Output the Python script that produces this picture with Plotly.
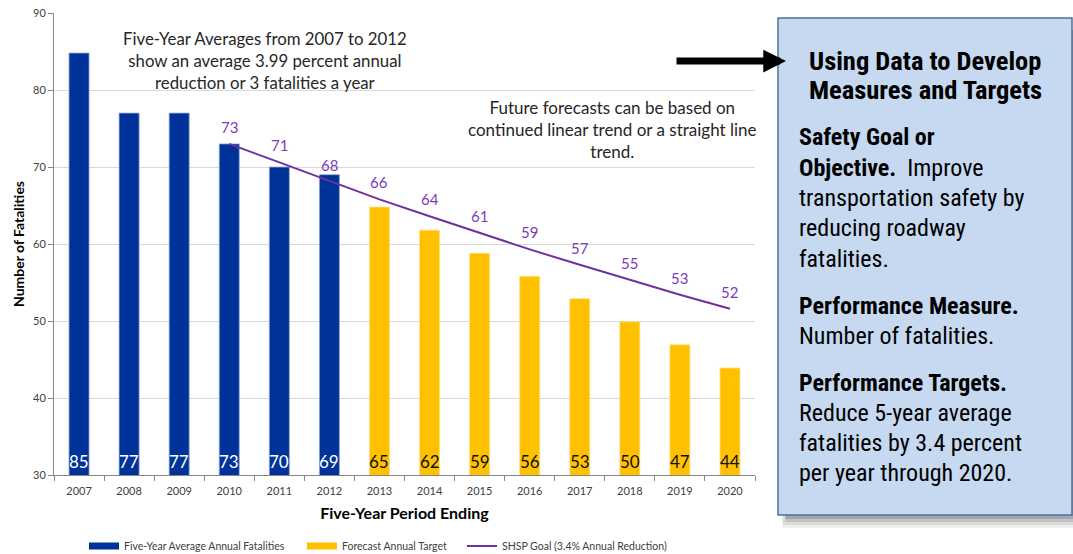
import plotly.graph_objects as go

# ---------------- data ----------------
years = ["2007", "2008", "2009", "2010", "2011", "2012", "2013", "2014",
         "2015", "2016", "2017", "2018", "2019", "2020"]
hist_years = years[:6]
hist_vals = [84.8, 77.0, 77.0, 73.0, 70.0, 69.0]
fc_years = years[6:]
fc_vals = [64.8, 61.8, 58.8, 55.8, 52.9, 49.9, 46.9, 43.9]
goal_years = years[3:]
goal_vals = [73.0, 70.6, 68.1, 65.8, 63.6, 61.4, 59.3, 57.3, 55.3, 53.4, 51.6]

# ---------------- layout helpers ----------------
W, H = 1073, 554
L, R, T, B = 54, 318, 13, 79
PW, PH = W - L - R, H - T - B


def px(x):
    return (x - L) / PW


def py(y):
    return (H - B - y) / PH


FONT = "Lato, Carlito, Calibri, sans-serif"
NARROW = "Liberation Sans Narrow, Arial Narrow, Roboto Condensed, sans-serif"
BLUE = "#003399"
GOLD = "#FFC000"
PURPLE = "#7030A0"
NAME_HIST = "Five-Year Average Annual Fatalities"
NAME_FC = "Forecast Annual Target"
NAME_GOAL = "SHSP Goal (3.4% Annual Reduction)"

fig = go.Figure()
fig.add_trace(go.Bar(x=hist_years, y=hist_vals, name=NAME_HIST,
                     marker=dict(color=BLUE, line=dict(color="#8FA8D8", width=0.8)),
                     showlegend=False))
fig.add_trace(go.Bar(x=fc_years, y=fc_vals, name=NAME_FC,
                     marker=dict(color=GOLD, line=dict(color="#FFE08A", width=0.8)),
                     showlegend=False))
fig.add_trace(go.Scatter(x=goal_years, y=goal_vals, name=NAME_GOAL,
                         mode="lines", line=dict(color=PURPLE, width=2),
                         legend="legend3"))
# legend entries for the bars drawn as flat rectangles
fig.add_trace(go.Scatter(x=[None], y=[None], name=NAME_HIST, mode="lines",
                         line=dict(color=BLUE, width=7), legend="legend"))
fig.add_trace(go.Scatter(x=[None], y=[None], name=NAME_FC, mode="lines",
                         line=dict(color=GOLD, width=7), legend="legend2"))

annotations = []
# bar value labels at the bottom of each bar
for yrs, vals, col in [(hist_years, hist_vals, "white"),
                       (fc_years, fc_vals, "#111111")]:
    for yx, v in zip(yrs, vals):
        annotations.append(dict(
            x=years.index(yx), y=30, xref="x", yref="y", text=f"{v:.0f}",
            showarrow=False, yshift=14, xanchor="center", yanchor="middle",
            font=dict(color=col, size=17, family=FONT)))
# goal line labels
for gx, gy in zip(goal_years, goal_vals):
    annotations.append(dict(
        x=years.index(gx), y=gy, xref="x", yref="y", text=f"{gy:.0f}",
        showarrow=False, yshift=17, xanchor="center", yanchor="middle",
        font=dict(color="#7C3CB8", size=15, family=FONT)))

annotations.append(dict(
    x=px(265), y=py(60), xref="paper", yref="paper", showarrow=False,
    xanchor="center", yanchor="middle",
    text="Five-Year Averages from 2007 to 2012<br>show an average 3.99 percent annual<br>reduction or 3 fatalities a year",
    font=dict(size=16.8, color="#262626", family=FONT), align="center"))
annotations.append(dict(
    x=px(612), y=py(129), xref="paper", yref="paper", showarrow=False,
    xanchor="center", yanchor="middle",
    text="Future forecasts can be based on<br>continued linear trend or a straight line<br>trend.",
    font=dict(size=17, color="#262626", family=FONT), align="center"))

# arrow
annotations.append(dict(
    x=px(786), y=py(61), xref="paper", yref="paper", ax=-111, ay=0,
    showarrow=True, arrowhead=2, arrowwidth=7, arrowsize=0.65,
    arrowcolor="black", text=""))

# box text
for yc, txt in [(60, "<b>Using Data to Develop</b>"),
                (90, "<b>Measures and Targets</b>")]:
    annotations.append(dict(
        x=px(925), y=py(yc), xref="paper", yref="paper", showarrow=False,
        xanchor="center", yanchor="middle", text=txt,
        font=dict(size=26.5, color="black", family=NARROW)))
box_lines = [
    (137, "<b>Safety Goal or</b>"),
    (168, "<b>Objective.</b>  Improve"),
    (198, "transportation safety by"),
    (228, "reducing roadway"),
    (259, "fatalities."),
    (306, "<b>Performance Measure.</b>"),
    (336, "Number of fatalities."),
    (383, "<b>Performance Targets.</b>"),
    (413, "Reduce 5-year average"),
    (443, "fatalities by 3.4 percent"),
    (473, "per year through 2020."),
]
for yc, txt in box_lines:
    annotations.append(dict(
        x=px(797), y=py(yc), xref="paper", yref="paper", showarrow=False,
        xanchor="left", yanchor="middle", text=txt, align="left",
        font=dict(size=24, color="black", family=NARROW)))

shapes = []
# soft shadow layers
for i, op in enumerate([0.08, 0.10, 0.14, 0.2]):
    d = 4 + (3 - i) * 3
    shapes.append(dict(type="rect", xref="paper", yref="paper",
                       x0=px(788 - d // 2), x1=px(1073 + 20),
                       y0=py(30), y1=py(515 + d),
                       fillcolor=f"rgba(50,50,60,{op})", line=dict(width=0),
                       layer="below"))
shapes.append(dict(type="rect", xref="paper", yref="paper",
                   x0=px(778), x1=px(1072), y0=py(18), y1=py(515),
                   fillcolor="#C6D9F1", line=dict(color="#4F6F9A", width=1.5)))

leg_common = dict(yanchor="middle", xanchor="left", orientation="h",
                  xref="container", yref="container",
                  font=dict(size=10.5, color="#404040", family=FONT),
                  bgcolor="rgba(0,0,0,0)", itemwidth=30)

fig.update_layout(
    width=W, height=H, margin=dict(l=L, r=R, t=T, b=B),
    paper_bgcolor="white", plot_bgcolor="white",
    barmode="overlay", bargap=0.6, showlegend=True,
    font=dict(family=FONT, color="#404040"),
    annotations=annotations, shapes=shapes,
    xaxis=dict(type="category", categoryorder="array", categoryarray=years,
               range=[-0.5, len(years) - 0.5], automargin=False,
               showline=True, linecolor="#868686", showgrid=False,
               ticks="outside", tickson="boundaries", ticklen=5,
               ticklabelstandoff=6,
               tickcolor="#868686", tickfont=dict(size=11, color="#404040"),
               title=dict(text="<b>Five-Year Period Ending</b>",
                          font=dict(size=16, color="black"), standoff=11)),
    yaxis=dict(range=[30, 90], dtick=10, showline=True, linecolor="#868686",
               ticks="outside", ticklen=5, tickcolor="#868686",
               gridcolor="#D9D9D9", zeroline=False, automargin=False,
               tickfont=dict(size=11, color="#404040"),
               title=dict(text="<b>Number of Fatalities</b>",
                          font=dict(size=14, color="black"), standoff=5)),
    legend=dict(x=84 / W, y=1 - 546 / H, **leg_common),
    legend2=dict(x=302 / W, y=1 - 546 / H, **leg_common),
    legend3=dict(x=462 / W, y=1 - 546 / H, **leg_common),
)

fig.write_html("out.html")
